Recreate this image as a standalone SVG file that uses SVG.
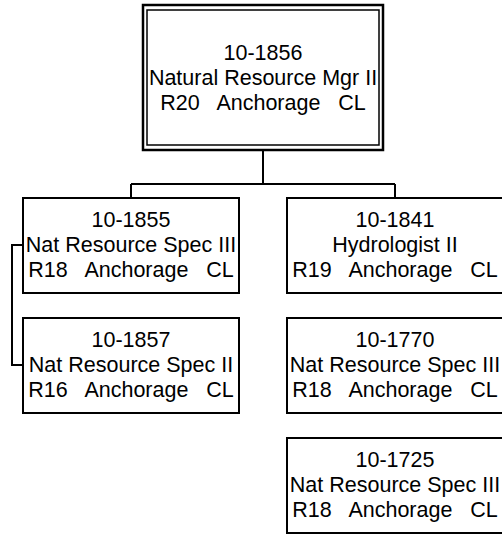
<svg xmlns="http://www.w3.org/2000/svg" width="502" height="534" viewBox="0 0 502 534">
<style>
.box{fill:#fff;stroke:#000;stroke-width:2}
.wire{fill:none;stroke:#000;stroke-width:2}
text{font-family:"Liberation Sans",Arial,sans-serif;font-size:21.5px;fill:#000;text-anchor:middle;white-space:pre}
</style>
<rect width="502" height="534" fill="#fff"/>
<g id="connectors">
<path class="wire" d="M263 150V184M131 184H395M131 184V198M395 184V198"/>
<path class="wire" d="M23 245H12V365H23"/>
</g>
<g id="n1856">
<rect x="143" y="5" width="240" height="145" fill="#fff" stroke="#000" stroke-width="2.5"/>
<rect x="147" y="10" width="232" height="135" fill="none" stroke="#000" stroke-width="1.5"/>
<text x="263" y="60">10-1856</text>
<text x="263" y="85">Natural Resource Mgr II</text>
<text x="263" y="110" xml:space="preserve">R20   Anchorage   CL</text>
</g>
<g id="n1855">
<rect class="box" x="23" y="198" width="216" height="95"/>
<text x="131" y="227">10-1855</text>
<text x="131" y="252">Nat Resource Spec III</text>
<text x="131" y="277" xml:space="preserve">R18   Anchorage   CL</text>
</g>
<g id="n1857">
<rect class="box" x="23" y="318" width="216" height="95"/>
<text x="131" y="347">10-1857</text>
<text x="131" y="372">Nat Resource Spec II</text>
<text x="131" y="397" xml:space="preserve">R16   Anchorage   CL</text>
</g>
<g id="n1841">
<rect class="box" x="287" y="198" width="216" height="95"/>
<text x="395" y="227">10-1841</text>
<text x="395" y="252">Hydrologist II</text>
<text x="395" y="277" xml:space="preserve">R19   Anchorage   CL</text>
</g>
<g id="n1770">
<rect class="box" x="287" y="318" width="216" height="95"/>
<text x="395" y="347">10-1770</text>
<text x="395" y="372">Nat Resource Spec III</text>
<text x="395" y="397" xml:space="preserve">R18   Anchorage   CL</text>
</g>
<g id="n1725">
<rect class="box" x="287" y="438" width="216" height="95"/>
<text x="395" y="467">10-1725</text>
<text x="395" y="492">Nat Resource Spec III</text>
<text x="395" y="517" xml:space="preserve">R18   Anchorage   CL</text>
</g>
</svg>
